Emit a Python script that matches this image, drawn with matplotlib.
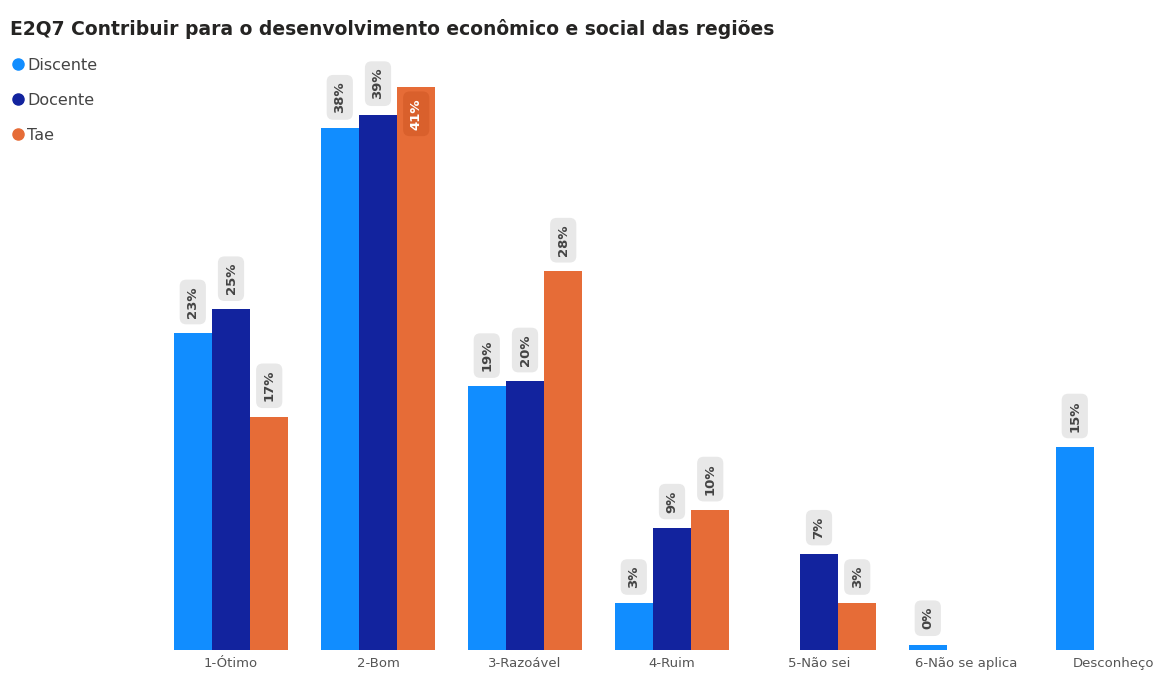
import numpy as np
import matplotlib.pyplot as plt
from matplotlib.lines import Line2D

# categories and series values (percent)
categories = ['1-Ótimo', '2-Bom', '3-Razoável', '4-Ruim', '5-Não sei', '6-Não se aplica', 'Desconheço']
series = ['Discente', 'Docente', 'Tae']
discente = [23.1, 38.0, 19.2, 3.4, np.nan, 0.4, 14.8]
docente = [24.8, 39.0, 19.6, 8.9, 7.0, np.nan, np.nan]
tae = [17.0, 41.0, 27.6, 10.2, 3.4, np.nan, np.nan]
colors = ['#118DFF', '#12239E', '#E66C37']

values = [discente, docente, tae]

fig = plt.figure(figsize=(11.58, 6.73), dpi=100)
# axes placed so the groups land where the original has them
ax = fig.add_axes([150 / 1158, 23 / 673, 1008 / 1158, 610 / 673])

x = np.arange(len(categories))
w = 0.26
ymax = 610 / 13.73

for i, (name, vals, c) in enumerate(zip(series, values, colors)):
    pos = x + (i - 1) * w
    ax.bar(pos, vals, width=w, color=c, edgecolor='none')
    for p, v in zip(pos, vals):
        if np.isnan(v):
            continue
        txt = f'{v:.0f}%'
        if v + 4.2 > ymax:
            # not enough room above: label inside the bar
            ax.text(p, v - 0.8, txt, rotation=90, ha='center', va='top',
                    fontsize=9.5, fontweight='bold', color='white',
                    bbox=dict(boxstyle='round,pad=0.5', fc='#D9602C', ec='none'))
        else:
            ax.text(p, v + 1.1, txt, rotation=90, ha='center', va='bottom',
                    fontsize=9.5, fontweight='bold', color='#444444',
                    bbox=dict(boxstyle='round,pad=0.5', fc='#E8E8E8', ec='none'))

ax.set_xlim((150 - 231) / 147, (1158 - 231) / 147)
ax.set_ylim(0, ymax)
ax.set_xticks(x)
ax.set_xticklabels(categories, fontsize=9.5, color='#555555')
ax.tick_params(axis='x', length=0, pad=5)
ax.set_yticks([])
for s in ax.spines.values():
    s.set_visible(False)

fig.text(10 / 1158, 1 - 35 / 673, 'E2Q7 Contribuir para o desenvolvimento econômico e social das regiões',
         fontsize=13.5, fontweight='bold', color='#252423', va='baseline')

handles = [Line2D([], [], marker='o', linestyle='none', color=c, markersize=8) for c in colors]
fig.legend(handles, series, loc='upper left', bbox_to_anchor=(0, 1 - 48 / 673),
           frameon=False, fontsize=11.5, labelcolor='#444444', handletextpad=0.1,
           labelspacing=1.25, handlelength=1.0, borderaxespad=0.2)

plt.savefig('out.png', dpi=100)
